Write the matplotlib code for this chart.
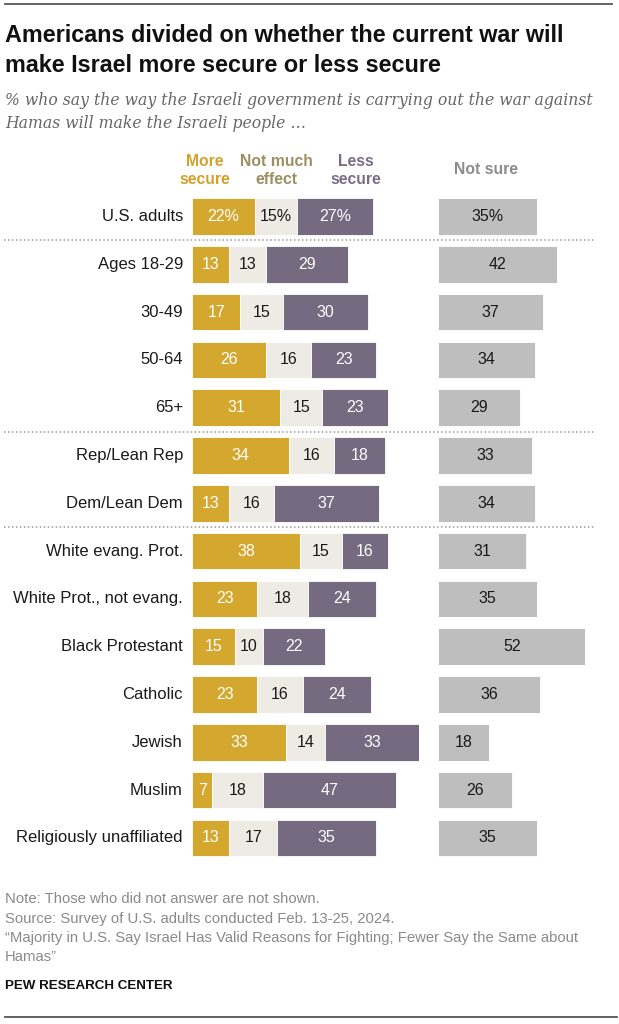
import matplotlib
matplotlib.use("Agg")
import matplotlib.pyplot as plt
import matplotlib.transforms as mtransforms
from matplotlib.lines import Line2D

# ---- data ----
categories = ["U.S. adults", "Ages 18-29", "30-49", "50-64", "65+",
              "Rep/Lean Rep", "Dem/Lean Dem", "White evang. Prot.",
              "White Prot., not evang.", "Black Protestant", "Catholic",
              "Jewish", "Muslim", "Religiously unaffiliated"]
more_secure = [22, 13, 17, 26, 31, 34, 13, 38, 23, 15, 23, 33, 7, 13]
not_much = [15, 13, 15, 16, 15, 16, 16, 15, 18, 10, 16, 14, 18, 17]
less_secure = [27, 29, 30, 23, 23, 18, 37, 16, 24, 22, 24, 33, 47, 35]
not_sure = [35, 42, 37, 34, 29, 33, 34, 31, 35, 52, 36, 18, 26, 35]
separators_after = [0, 4, 6]

W, H = 619, 1024
fig = plt.figure(figsize=(W / 100, H / 100), dpi=100)
fig.patch.set_facecolor("white")

C_MORE = "#D4A72F"
C_NM = "#EEEBE4"
C_LESS = "#766A80"
C_NS = "#BEBEBE"

def fx(x):
    return x / W

def fy(y):
    return 1 - y / H

renderer = fig.canvas.get_renderer()

def fit(t, target_w):
    bb = t.get_window_extent(renderer)
    t.set_fontsize(t.get_fontsize() * target_w / bb.width)

# ---- axes geometry (pixels) ----
scale = 2.83           # px per percentage point
row0, pitch = 216.5, 47.8
n = len(categories)
top_px = row0 - pitch / 2
bot_px = row0 + (n - 0.5) * pitch
bar_h = 36.7 / pitch

ax1_left, ax1_max = 192.3, 80
ax2_left, ax2_max = 438.3, 60
ax1 = fig.add_axes([fx(ax1_left), fy(bot_px), ax1_max * scale / W, (bot_px - top_px) / H])
ax2 = fig.add_axes([fx(ax2_left), fy(bot_px), ax2_max * scale / W, (bot_px - top_px) / H])
for ax, mx in ((ax1, ax1_max), (ax2, ax2_max)):
    ax.set_xlim(0, mx)
    ax.set_ylim(n - 0.5, -0.5)
    ax.axis("off")

ys = list(range(n))
left2 = [m + nm for m, nm in zip(more_secure, not_much)]
ax1.barh(ys, more_secure, height=bar_h, color=C_MORE, edgecolor="white", linewidth=0.6)
ax1.barh(ys, not_much, left=more_secure, height=bar_h, color=C_NM, edgecolor="white", linewidth=0.6)
ax1.barh(ys, less_secure, left=left2, height=bar_h, color=C_LESS, edgecolor="white", linewidth=0.6)
ax2.barh(ys, not_sure, height=bar_h, color=C_NS, edgecolor="white", linewidth=0.6)

lab_font = ["Liberation Sans", "DejaVu Sans"]
VFS = 11.5

def fmt(v, i):
    return f"{v}%" if i == 0 else f"{v}"

for i in range(n):
    ax1.text(more_secure[i] / 2, i, fmt(more_secure[i], i), ha="center", va="center",
             color="white", fontsize=VFS, family=lab_font)
    ax1.text(more_secure[i] + not_much[i] / 2, i, fmt(not_much[i], i), ha="center", va="center",
             color="#1a1a1a", fontsize=VFS, family=lab_font)
    ax1.text(left2[i] + less_secure[i] / 2, i, fmt(less_secure[i], i), ha="center", va="center",
             color="white", fontsize=VFS, family=lab_font)
    ax2.text(not_sure[i] / 2, i, fmt(not_sure[i], i), ha="center", va="center",
             color="#1a1a1a", fontsize=VFS, family=lab_font)

# category labels
cat_texts = []
for i, c in enumerate(categories):
    t = ax1.text(-3.3, i, c, ha="right", va="center", color="#1a1a1a",
                 fontsize=10.5, family=lab_font)
    cat_texts.append(t)
bb = cat_texts[-1].get_window_extent(renderer)
fs = 10.5 * 168 / bb.width
for t in cat_texts:
    t.set_fontsize(fs)

# separators
trans = mtransforms.blended_transform_factory(fig.transFigure, ax1.transData)
for s in separators_after:
    fig.add_artist(Line2D([fx(4), fx(594)], [s + 0.5, s + 0.5], transform=trans,
                          color="#9a9a9a", linestyle=(0, (1, 1.6)), linewidth=1.1))

# column headers
hdr_font = ["Liberation Sans", "DejaVu Sans"]
HFS = 11.3
fig.text(fx(205), fy(170), "More\nsecure", ha="center", va="center", color="#D1A22C",
         fontsize=HFS, fontweight="bold", family=hdr_font, linespacing=1.25)
fig.text(fx(276), fy(170), "Not much\neffect", ha="center", va="center", color="#9C8F62",
         fontsize=HFS, fontweight="bold", family=hdr_font, linespacing=1.25)
fig.text(fx(356), fy(171), "Less\nsecure", ha="center", va="center", color="#7A6D86",
         fontsize=HFS, fontweight="bold", family=hdr_font, linespacing=1.25)
fig.text(fx(486.5), fy(170), "Not sure", ha="center", va="center", color="#8C8C8C",
         fontsize=HFS, fontweight="bold", family=hdr_font)

# top / bottom rules
fig.add_artist(Line2D([fx(5), fx(612)], [fy(4), fy(4)], color="#555555", linewidth=1.3))
fig.add_artist(Line2D([fx(5), fx(617)], [fy(1017), fy(1017)], color="#555555", linewidth=1.3))

# title
t1 = fig.text(fx(5), fy(42.5), "Americans divided on whether the current war will",
              ha="left", va="baseline", fontsize=16, fontweight="bold", color="#111111",
              family=["Liberation Sans", "DejaVu Sans"])
fit(t1, 558)
fig.text(fx(5), fy(72), "make Israel more secure or less secure",
         ha="left", va="baseline", fontsize=t1.get_fontsize(), fontweight="bold",
         color="#111111", family=["Liberation Sans", "DejaVu Sans"])

# subtitle
s1 = fig.text(fx(5), fy(105), "% who say the way the Israeli government is carrying out the war against",
              ha="left", va="baseline", fontsize=12, style="italic", color="#666666",
              family=["DejaVu Serif"])
fit(s1, 586)
fig.text(fx(5), fy(128.5), "Hamas will make the Israeli people \u2026",
         ha="left", va="baseline", fontsize=s1.get_fontsize(), style="italic",
         color="#666666", family=["DejaVu Serif"])

# footer
foot_font = ["Liberation Sans", "DejaVu Sans"]
n1 = fig.text(fx(5), fy(899), "Note: Those who did not answer are not shown.", ha="left",
              va="center", fontsize=9.5, color="#8a8a8a", family=foot_font)
fit(n1, 316)
ffs = n1.get_fontsize()
fig.text(fx(5), fy(919), "Source: Survey of U.S. adults conducted Feb. 13-25, 2024.", ha="left",
         va="center", fontsize=ffs, color="#8a8a8a", family=foot_font)
fig.text(fx(5), fy(938), "\u201cMajority in U.S. Say Israel Has Valid Reasons for Fighting; Fewer Say the Same about",
         ha="left", va="center", fontsize=ffs, color="#8a8a8a", family=foot_font)
fig.text(fx(5), fy(957), "Hamas\u201d", ha="left", va="center", fontsize=ffs, color="#8a8a8a",
         family=foot_font)
p = fig.text(fx(5), fy(986), "PEW RESEARCH CENTER", ha="left", va="center", fontsize=10,
             fontweight="bold", color="#111111", family=foot_font)
fit(p, 167)

fig.savefig("out.png", dpi=100, facecolor="white")
